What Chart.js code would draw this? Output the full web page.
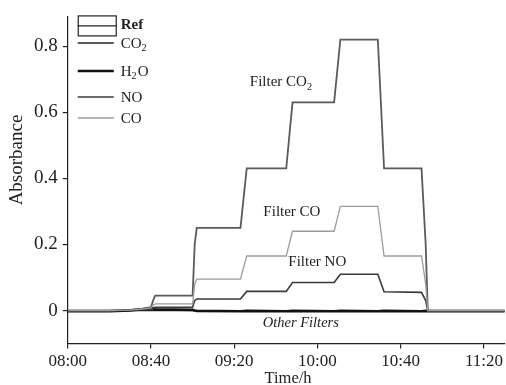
<!DOCTYPE html>
<html>
<head>
<meta charset="utf-8">
<title>Absorbance vs time</title>
<script src="https://cdn.jsdelivr.net/npm/chart.js@4/dist/chart.umd.min.js"></script>
<style>
  html, body { margin: 0; padding: 0; background: #fff; }
  canvas { display: block; }
</style>
</head>
<body>
<canvas id="absorbance-chart" width="506" height="385"></canvas>
<script>
// minutes after 08:00, shared by every trace
const minutes = [0, 20, 30, 36, 40, 41, 42, 60, 61, 62, 83, 86, 105, 108, 128, 131, 149, 152, 170, 172, 173, 190, 210];

const co2 = [0, 0, 0.002, 0.006, 0.01, 0.03, 0.045, 0.045, 0.2, 0.25, 0.25, 0.43, 0.43, 0.63, 0.63, 0.82, 0.82, 0.43, 0.43, 0.2, 0, 0, 0];
const co  = [0, 0, 0.001, 0.004, 0.008, 0.015, 0.02, 0.02, 0.08, 0.095, 0.095, 0.165, 0.165, 0.24, 0.24, 0.315, 0.315, 0.165, 0.165, 0.08, 0, 0, 0];
const no  = [0, 0, 0.001, 0.003, 0.005, 0.008, 0.01, 0.01, 0.03, 0.035, 0.035, 0.058, 0.058, 0.085, 0.085, 0.11, 0.11, 0.057, 0.055, 0.03, 0, 0, 0];
const h2o = [-0.002, -0.002, 0, 0.004, 0.007, 0.006, 0.004, 0.002, 0, -0.001, -0.002, -0.001, -0.002, -0.001, -0.002, -0.001, -0.002, -0.001, -0.002, -0.001, -0.002, -0.002, -0.002];
const ref = [0, 0, 0, 0, 0, 0, 0, 0, 0, 0, 0, 0, 0, 0, 0, 0, 0, 0, 0, 0, 0, 0, 0];

const xTicks = [0, 40, 80, 120, 160, 200];
const xTickLabels = ['08:00', '08:40', '09:20', '10:00', '10:40', '11:20'];
const yTicks = [0, 0.2, 0.4, 0.6, 0.8];

const serif = '"Liberation Serif", "DejaVu Serif", serif';
const ink = '#222';

function toPoints(values) {
  return values.map((v, i) => ({ x: minutes[i], y: v }));
}

function trace(label, values, color, width) {
  return {
    label: label,
    data: toPoints(values),
    borderColor: color,
    borderWidth: width,
    pointRadius: 0,
    tension: 0,
    fill: false
  };
}

// text with an optional subscript part, e.g. CO + 2
function richText(ctx, parts, x, y, size, weight, style) {
  let cx = x;
  parts.forEach(p => {
    const sub = p[1];
    const s = sub ? size * 0.68 : size;
    ctx.font = `${style || 'normal'} ${weight || 'normal'} ${s}px ${serif}`;
    ctx.fillText(p[0], cx, sub ? y + size * 0.3 : y);
    cx += ctx.measureText(p[0]).width + (sub ? 1 : 0);
  });
}

const decorations = {
  id: 'decorations',
  beforeDraw(chart) {
    const ctx = chart.ctx;
    ctx.save();
    ctx.fillStyle = '#fff';
    ctx.fillRect(0, 0, chart.width, chart.height);
    ctx.restore();
  },
  afterDraw(chart) {
    const ctx = chart.ctx;
    const xs = chart.scales.x, ys = chart.scales.y;
    const area = chart.chartArea;
    ctx.save();
    ctx.fillStyle = ink;
    ctx.textBaseline = 'middle';
    ctx.textAlign = 'left';

    // labels beside the traces
    richText(ctx, [['Filter CO'], ['2', true]], xs.getPixelForValue(87.5), ys.getPixelForValue(0.69), 15);
    richText(ctx, [['Filter CO']], xs.getPixelForValue(94), ys.getPixelForValue(0.298), 15);
    richText(ctx, [['Filter NO']], xs.getPixelForValue(106), ys.getPixelForValue(0.147), 15);
    richText(ctx, [['Other Filters']], xs.getPixelForValue(93.7), ys.getPixelForValue(-0.039), 14.5, 'normal', 'italic');

    // legend
    const lx = area.left + 10, lw = 36, tx = lx + 43;
    const ds = chart.data.datasets;
    ctx.strokeStyle = ds[4].borderColor;
    ctx.lineWidth = 1.2;
    ctx.strokeRect(lx + 0.5, area.top - 0.5, lw + 2, 20);
    ctx.beginPath();
    ctx.moveTo(lx, area.top + 9.5);
    ctx.lineTo(lx + lw + 2.5, area.top + 9.5);
    ctx.stroke();
    richText(ctx, [['Ref']], tx, area.top + 9, 15, 'bold');

    const rows = [
      { set: ds[2], parts: [['CO'], ['2', true]], y: 43 },
      { set: ds[3], parts: [['H'], ['2', true], ['O']], y: 71 },
      { set: ds[1], parts: [['NO']], y: 97 },
      { set: ds[0], parts: [['CO']], y: 118 }
    ];
    rows.forEach(r => {
      ctx.strokeStyle = r.set.borderColor;
      ctx.lineWidth = r.set.borderWidth;
      ctx.beginPath();
      ctx.moveTo(lx, r.y);
      ctx.lineTo(lx + lw, r.y);
      ctx.stroke();
      ctx.fillStyle = ink;
      richText(ctx, r.parts, tx, r.y + 1, 15);
    });

    // axis titles
    ctx.textAlign = 'center';
    ctx.font = `19px ${serif}`;
    ctx.save();
    ctx.translate(17, 160);
    ctx.rotate(-Math.PI / 2);
    ctx.fillText('Absorbance', 0, 0);
    ctx.restore();
    ctx.font = `16.5px ${serif}`;
    ctx.fillText('Time/h', 288, 379);
    ctx.restore();
  }
};

new Chart(document.getElementById('absorbance-chart'), {
  type: 'line',
  data: {
    datasets: [
      trace('CO', co, '#9c9c9c', 1.3),
      trace('NO', no, '#3a3a3a', 1.6),
      trace('CO2', co2, '#5a5a5a', 1.8),
      trace('H2O', h2o, '#111', 2.6),
      trace('Ref', ref, '#222', 1.2)
    ]
  },
  options: {
    responsive: false,
    animation: false,
    devicePixelRatio: 1,
    layout: { padding: { left: 29, top: 13, right: 0, bottom: 10 } },
    plugins: {
      legend: { display: false },
      tooltip: { enabled: false }
    },
    scales: {
      x: {
        type: 'linear',
        min: 0,
        max: 210,
        afterBuildTicks: s => { s.ticks = xTicks.map(v => ({ value: v })); },
        ticks: {
          callback: (v, i) => xTickLabels[i],
          font: { family: serif, size: 17 },
          color: ink,
          padding: 3,
          maxRotation: 0,
          autoSkip: false
        },
        grid: { drawOnChartArea: false, tickLength: 5, color: ink, lineWidth: 1.2 },
        border: { color: ink, width: 1.2 }
      },
      y: {
        min: -0.1,
        max: 0.89,
        afterBuildTicks: s => { s.ticks = yTicks.map(v => ({ value: v })); },
        ticks: {
          callback: v => (v === 0 ? '0' : v.toFixed(1)),
          font: { family: serif, size: 19 },
          color: ink,
          padding: 5
        },
        grid: { drawOnChartArea: false, tickLength: 5, color: ink, lineWidth: 1.2 },
        border: { color: ink, width: 1.2 }
      }
    }
  },
  plugins: [decorations]
});
</script>
</body>
</html>
